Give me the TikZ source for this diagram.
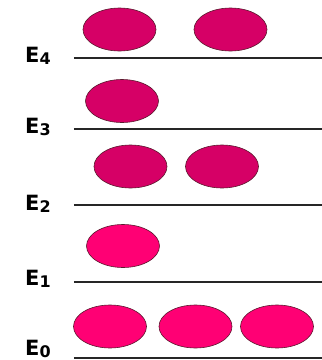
\documentclass[tikz,border=0pt]{standalone}
\usepackage{fontspec}
\setmainfont{DejaVu Sans}
\usetikzlibrary{shapes.geometric}

\definecolor{hotpink}{RGB}{255,0,116}
\definecolor{deeppink}{RGB}{214,0,102}
\definecolor{rimcol}{RGB}{90,25,45}

\newcommand{\lvlsub}[1]{\raisebox{-2pt}{\fontsize{16}{16}\selectfont #1}}

\begin{document}
\begin{tikzpicture}[
        x=1pt, y=-1pt,
        level_lbl/.style={font=\fontsize{21}{21}\selectfont\bfseries, inner sep=0pt, anchor=base west},
        level_line/.style={draw=black!85, line width=1.5pt},
        particle/.style={ellipse, draw=rimcol, line width=0.6pt, minimum width=73pt, minimum height=43pt, inner sep=0pt},
        excited/.style={particle, fill=deeppink},
        ground/.style={particle, fill=hotpink}
    ]
    \useasboundingbox (0,0) rectangle (322,360);

    % energy levels
    \node[level_lbl] (e4) at (25,62) {E\lvlsub{4}};
    \node[level_lbl] (e3) at (25,133) {E\lvlsub{3}};
    \node[level_lbl] (e2) at (25,210) {E\lvlsub{2}};
    \node[level_lbl] (e1) at (25,285) {E\lvlsub{1}};
    \node[level_lbl] (e0) at (25,355) {E\lvlsub{0}};

    \coordinate (l4a) at (74,58);  \coordinate (l4b) at (322,58);
    \coordinate (l3a) at (74,129); \coordinate (l3b) at (322,129);
    \coordinate (l2a) at (74,205); \coordinate (l2b) at (322,205);
    \coordinate (l1a) at (74,282); \coordinate (l1b) at (322,282);
    \coordinate (l0a) at (74,358); \coordinate (l0b) at (322,358);

    \draw[level_line] (l4a) -- (l4b);
    \draw[level_line] (l3a) -- (l3b);
    \draw[level_line] (l2a) -- (l2b);
    \draw[level_line] (l1a) -- (l1b);
    \draw[level_line] (l0a) -- (l0b);

    % occupation
    \node[excited] (p4a) at (119.5,29.5) {};
    \node[excited] (p4b) at (230.5,29.5) {};
    \node[excited] (p3a) at (122,101) {};
    \node[excited] (p2a) at (130.5,166.5) {};
    \node[excited] (p2b) at (222,166.5) {};
    \node[ground] (p1a) at (123,246) {};
    \node[ground] (p0a) at (110,326.5) {};
    \node[ground] (p0b) at (195.5,326.5) {};
    \node[ground] (p0c) at (277,326.5) {};
\end{tikzpicture}
\end{document}
